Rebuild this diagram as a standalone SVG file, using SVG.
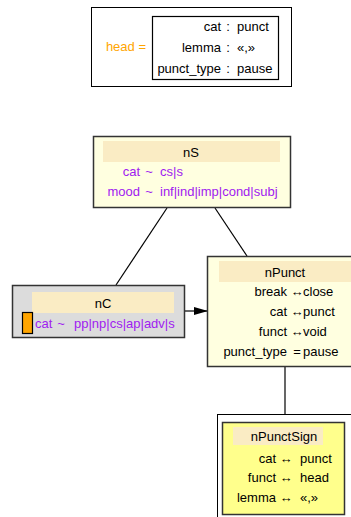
<svg xmlns="http://www.w3.org/2000/svg" width="351" height="517" viewBox="0 0 351 517">
<style>
text{font-family:"Liberation Sans",Arial,sans-serif;font-size:13px;fill:#000}
.p{fill:#a020f0}
.o{fill:#ffa500}
.m{text-anchor:middle}
.e{text-anchor:end}
.node{stroke:#333;stroke-width:1.5}
.hdr{fill:#faecc4;stroke:none}
.edge{stroke:#000;stroke-width:1.2;fill:none}
</style>
<defs>
<marker id="ah" markerWidth="14" markerHeight="8" refX="14" refY="4" orient="auto" markerUnits="userSpaceOnUse">
<polygon points="0,0 14,4 0,8" fill="#000"/>
</marker>
</defs>
<g id="connectors">
<line class="edge" x1="167" y1="208" x2="116" y2="285"/>
<line class="edge" x1="215" y1="208" x2="247" y2="256"/>
<line class="edge" x1="285" y1="367" x2="285" y2="414"/>
<line class="edge" x1="185" y1="311" x2="208" y2="311" stroke="#444" marker-end="url(#ah)"/>
</g>
<g id="head">
<rect x="91.5" y="7.5" width="200" height="79" fill="#fff" stroke="#000"/>
<rect x="152.5" y="16.5" width="126" height="63" fill="#fff" stroke="#000" stroke-width="1.2"/>
<text class="o e" x="146" y="51">head =</text>
<text class="e" x="221" y="31">cat</text><text class="m" x="228" y="31">:</text><text x="237" y="31">punct</text>
<text class="e" x="221" y="52">lemma</text><text class="m" x="228" y="52">:</text><text x="237" y="52">«,»</text>
<text class="e" x="221" y="73">punct_type</text><text class="m" x="228" y="73">:</text><text x="237" y="73">pause</text>
</g>
<g id="nS">
<rect class="node" x="93.5" y="136.5" width="197" height="71" fill="#ffffe0"/>
<rect class="hdr" x="103" y="141" width="177" height="21"/>
<text class="m" x="191" y="157">nS</text>
<text class="p e" x="140" y="176">cat</text><text class="p m" x="149" y="176">~</text><text class="p" x="160" y="176">cs|s</text>
<text class="p e" x="140" y="196">mood</text><text class="p m" x="149" y="196">~</text><text class="p" x="160" y="196">inf|ind|imp|cond|subj</text>
</g>
<g id="nC">
<rect class="node" x="12.5" y="285.5" width="172" height="52" fill="#dcdcdc"/>
<rect class="hdr" x="32" y="292" width="142" height="21"/>
<text class="m" x="103" y="308">nC</text>
<rect x="22.5" y="312.5" width="10" height="21" fill="#ffa500" stroke="#000" stroke-width="1.2"/>
<text class="p" x="35" y="328">cat</text><text class="p m" x="61" y="328">~</text><text class="p" x="74" y="328">pp|np|cs|ap|adv|s</text>
</g>
<g id="nPunct">
<rect class="node" x="207.5" y="256.5" width="156" height="110" fill="#ffffe0"/>
<rect class="hdr" x="219" y="261" width="134" height="21"/>
<text class="m" x="285" y="277">nPunct</text>
<text class="e" x="287" y="296">break</text><text class="m" x="297" y="296">↔</text><text x="303" y="296">close</text>
<text class="e" x="287" y="316">cat</text><text class="m" x="297" y="316">↔</text><text x="303" y="316">punct</text>
<text class="e" x="287" y="336">funct</text><text class="m" x="297" y="336">↔</text><text x="303" y="336">void</text>
<text class="e" x="287" y="356">punct_type</text><text class="m" x="297" y="356">=</text><text x="303" y="356">pause</text>
</g>
<g id="nPunctSign">
<rect x="217.5" y="414.5" width="150" height="110" fill="#fff" stroke="#000"/>
<rect class="node" x="222.5" y="422.5" width="122" height="92" fill="#ffff8c"/>
<rect class="hdr" x="233" y="427" width="90" height="18"/>
<text class="m" x="284" y="441">nPunctSign</text>
<text class="e" x="276" y="463">cat</text><text class="m" x="286" y="463">↔</text><text x="300" y="463">punct</text>
<text class="e" x="276" y="482">funct</text><text class="m" x="286" y="482">↔</text><text x="300" y="482">head</text>
<text class="e" x="276" y="502">lemma</text><text class="m" x="286" y="502">↔</text><text x="300" y="502">«,»</text>
</g>
</svg>
